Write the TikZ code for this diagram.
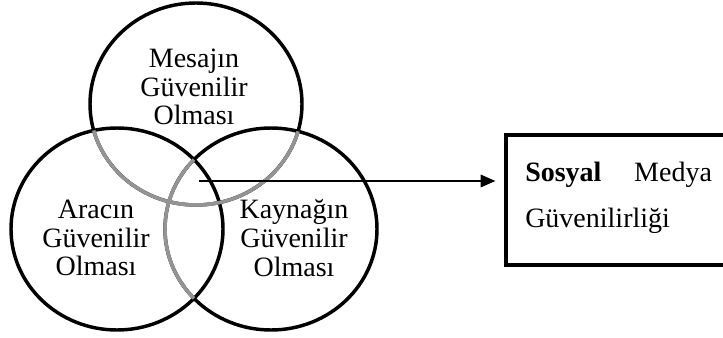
\documentclass[tikz,border=0pt]{standalone}
\usepackage{fontspec}
\setmainfont{Liberation Serif}
\usepackage{tikz}
\usetikzlibrary{arrows.meta}

\tikzset{
  halka/.style={line width=2.6pt},
  arkahalka/.style={line width=2.6pt, color=black!42},
  etiket/.style={inner sep=0.75pt, align=center, font=\fontsize{21}{21.5}\selectfont},
}

\begin{document}
\begin{tikzpicture}[x=0.75pt,y=0.75pt,yscale=-1,xscale=1]
    \useasboundingbox (0,0) rectangle (723,338);

    % circles
    \draw [halka] (196,104) ellipse (106 and 101);
    \draw [halka] (117,229) ellipse (106 and 101);
    \draw [halka] (271,229) ellipse (106 and 101);
    % parts lying behind
    \begin{scope}
      \clip (117,229) ellipse (106 and 101);
      \draw [arkahalka] (196,104) ellipse (106 and 101);
      \draw [arkahalka] (271,229) ellipse (106 and 101);
    \end{scope}
    \begin{scope}
      \clip (271,229) ellipse (106 and 101);
      \draw [arkahalka] (196,104) ellipse (106 and 101);
    \end{scope}

    \draw (194,87) node [etiket] (mesaj) {Mesajın\\Güvenilir\\Olması};
    \draw (96,238) node [etiket] (arac) {Aracın\\Güvenilir\\Olması};
    \draw (294,238) node [etiket] (kaynak) {Kaynağın\\Güvenilir\\Olması};

    \draw [line width=2.6pt] (506,135) rectangle (780,265);
    \coordinate (kutu) at (506,181);
    \draw (525,198) node [anchor=west, inner sep=0pt, text width=140pt, align=left,
      font=\fontsize{21}{34.5}\selectfont] (guven) {\textbf{Sosyal}\hfill Medya\\Güvenilirliği};

    \coordinate (kesisim) at (199,181);
    \draw [-{Triangle[length=11pt,width=9.5pt]}, line width=0.8pt, shorten >=8pt] (kesisim) -- (kutu);
\end{tikzpicture}
\end{document}
